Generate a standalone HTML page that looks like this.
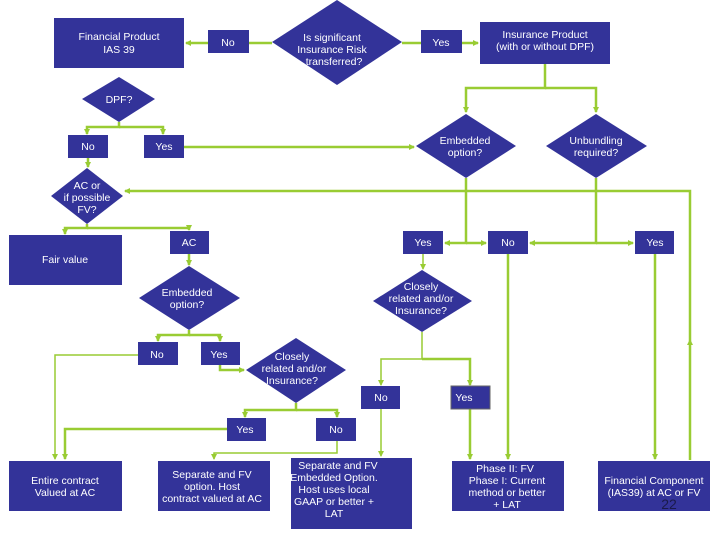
<!DOCTYPE html>
<html><head><meta charset="utf-8"><style>
body{margin:0;background:#fff;}
svg{display:block;}
text{font-family:"Liberation Sans",sans-serif;font-size:10.5px;fill:#fff;text-anchor:middle;}
.b{fill:#333399;}
.l{stroke:#99cc33;stroke-width:2.5;fill:none;}
.t{stroke:#99cc33;stroke-width:1.5;fill:none;}
</style></head><body>
<svg width="720" height="540" viewBox="0 0 720 540" xmlns="http://www.w3.org/2000/svg">
<defs><marker id="a" markerWidth="6" markerHeight="6" refX="5" refY="3" orient="auto" markerUnits="userSpaceOnUse"><path d="M0,0L6,3L0,6z" fill="#99cc33"/></marker></defs>
<rect width="720" height="540" fill="#fff"/>
<!-- connectors -->
<path class="l" d="M272,43H249M208,43H186" marker-end="url(#a)"/>
<path class="l" d="M402,43H421M462,43H478" marker-end="url(#a)"/>
<path class="l" d="M545,64V88H466V112" marker-end="url(#a)"/>
<path class="l" d="M545,88H596V112" marker-end="url(#a)"/>
<path class="l" d="M119,122V127H87V134" marker-end="url(#a)"/>
<path class="l" d="M119,127H163V134" marker-end="url(#a)"/>
<path class="l" d="M184,147H414" marker-end="url(#a)"/>
<path class="l" d="M88,158V167" marker-end="url(#a)"/>
<path class="l" d="M690,460V191H125" marker-end="url(#a)"/>
<path class="t" d="M690,345V340" marker-end="url(#a)"/>
<path class="l" d="M87,224V228H65V234" marker-end="url(#a)"/>
<path class="l" d="M87,228H189V230" marker-end="url(#a)"/>
<path class="l" d="M466,178V243H445" marker-end="url(#a)"/>
<path class="l" d="M466,243H486" marker-end="url(#a)"/>
<path class="l" d="M596,178V243H530" marker-end="url(#a)"/>
<path class="l" d="M596,243H633" marker-end="url(#a)"/>
<path class="t" d="M423,254V269" marker-end="url(#a)"/>
<path class="l" d="M508,254V459" marker-end="url(#a)"/>
<path class="l" d="M655,254V459" marker-end="url(#a)"/>
<path class="l" d="M189,254V265" marker-end="url(#a)"/>
<path class="l" d="M189,330V335H158V341" marker-end="url(#a)"/>
<path class="l" d="M189,335H220V341" marker-end="url(#a)"/>
<path class="t" d="M138,355H55V459" marker-end="url(#a)"/>
<path class="l" d="M220,365V370H244" marker-end="url(#a)"/>
<path class="l" d="M296,403V410H245V417" marker-end="url(#a)"/>
<path class="l" d="M296,410H337V417" marker-end="url(#a)"/>
<path class="l" d="M227,429H65V459" marker-end="url(#a)"/>
<path class="t" d="M337,441V453H214V459" marker-end="url(#a)"/>
<path class="t" d="M422,332V359H381V385" marker-end="url(#a)"/>
<path class="l" d="M422,359H470V385" marker-end="url(#a)"/>
<path class="t" d="M381,409V456" marker-end="url(#a)"/>
<path class="l" d="M470,409V459" marker-end="url(#a)"/>
<!-- boxes -->
<rect class="b" x="54" y="18" width="130" height="50"/>
<text x="119" y="40">Financial Product</text><text x="119" y="53">IAS 39</text>
<rect class="b" x="208" y="30" width="41" height="23"/><text x="228" y="46">No</text>
<polygon class="b" points="337,0 402,42 337,85 272,42"/>
<text x="332" y="41">Is significant</text><text x="332" y="53">Insurance Risk</text><text x="334" y="65">transferred?</text>
<rect class="b" x="421" y="30" width="41" height="23"/><text x="441" y="46">Yes</text>
<rect class="b" x="480" y="22" width="130" height="42"/>
<text x="545" y="38">Insurance Product</text><text x="545" y="50">(with or without DPF)</text>
<polygon class="b" points="119,77 155,99 119,122 82,99"/><text x="119" y="103">DPF?</text>
<rect class="b" x="68" y="135" width="40" height="23"/><text x="88" y="150">No</text>
<rect class="b" x="144" y="135" width="40" height="23"/><text x="164" y="150">Yes</text>
<polygon class="b" points="466,114 516,146 466,178 416,146"/>
<text x="465" y="144">Embedded</text><text x="465" y="156">option?</text>
<polygon class="b" points="596,114 647,146 596,178 546,146"/>
<text x="596" y="144">Unbundling</text><text x="596" y="156">required?</text>
<polygon class="b" points="87,168 123,196 87,224 51,196"/>
<text x="87" y="189">AC or</text><text x="87" y="201">if possible</text><text x="87" y="213">FV?</text>
<rect class="b" x="9" y="235" width="113" height="50"/><text x="65" y="263">Fair value</text>
<rect class="b" x="170" y="231" width="39" height="23"/><text x="189" y="246">AC</text>
<rect class="b" x="403" y="231" width="40" height="23"/><text x="423" y="246">Yes</text>
<rect class="b" x="488" y="231" width="40" height="23"/><text x="508" y="246">No</text>
<rect class="b" x="635" y="231" width="39" height="23"/><text x="655" y="246">Yes</text>
<polygon class="b" points="422,270 472,301 422,332 373,301"/>
<text x="421" y="290">Closely</text><text x="421" y="302">related and/or</text><text x="421" y="314">Insurance?</text>
<polygon class="b" points="189,266 240,298 189,330 139,298"/>
<text x="187" y="296">Embedded</text><text x="187" y="308">option?</text>
<rect class="b" x="138" y="342" width="40" height="23"/><text x="157" y="358">No</text>
<rect class="b" x="201" y="342" width="39" height="23"/><text x="219" y="358">Yes</text>
<polygon class="b" points="296,338 346,370 296,403 246,370"/>
<text x="292" y="360">Closely</text><text x="294" y="372">related and/or</text><text x="292" y="384">Insurance?</text>
<rect class="b" x="227" y="418" width="39" height="23"/><text x="245" y="433">Yes</text>
<rect class="b" x="316" y="418" width="40" height="23"/><text x="336" y="433">No</text>
<rect class="b" x="361" y="386" width="39" height="23"/><text x="381" y="401">No</text>
<rect class="b" x="451" y="386" width="39" height="23" stroke="#666" stroke-width="1"/><text x="464" y="401">Yes</text>
<rect class="b" x="9" y="461" width="113" height="50"/>
<text x="65" y="484">Entire contract</text><text x="65" y="496">Valued at AC</text>
<rect class="b" x="158" y="461" width="112" height="50"/>
<text x="212" y="478">Separate and FV</text><text x="212" y="490">option.  Host</text><text x="212" y="502">contract valued at AC</text>
<rect class="b" x="291" y="458" width="121" height="71"/>
<text x="338" y="469">Separate and FV</text><text x="334" y="481">Embedded Option.</text><text x="334" y="493">Host uses local</text><text x="334" y="505">GAAP or better +</text><text x="334" y="517">LAT</text>
<rect class="b" x="452" y="461" width="112" height="50"/>
<text x="505" y="472">Phase II: FV</text><text x="507" y="484">Phase I: Current</text><text x="507" y="496">method or better</text><text x="507" y="508">+ LAT</text>
<rect class="b" x="598" y="461" width="112" height="50"/>
<text x="654" y="484">Financial Component</text><text x="654" y="496">(IAS39) at AC or FV</text>
<text x="669" y="509" style="fill:#1a1a4a;font-size:14px">22</text>
</svg>
</body></html>
